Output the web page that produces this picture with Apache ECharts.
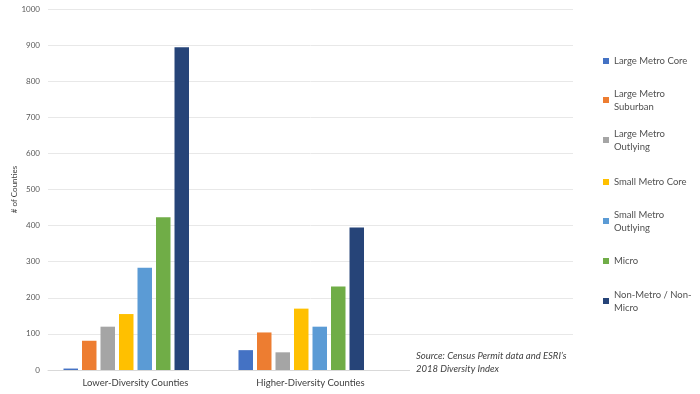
<!DOCTYPE html>
<html>
<head>
<meta charset="utf-8">
<script src="https://cdn.jsdelivr.net/npm/echarts@6/dist/echarts.min.js"></script>
<style>html,body{margin:0;padding:0;background:#fff}#c{width:700px;height:394px}</style>
</head>
<body>
<div id="c"></div>
<script>
var categories = ['Lower-Diversity Counties', 'Higher-Diversity Counties', ''];
var seriesNames = ['Large Metro Core', 'Large Metro Suburban', 'Large Metro Outlying', 'Small Metro Core', 'Small Metro Outlying', 'Micro', 'Non-Metro / Non-Micro'];
var legendLabels = ['Large Metro Core', 'Large Metro\nSuburban', 'Large Metro\nOutlying', 'Small Metro Core', 'Small Metro\nOutlying', 'Micro', 'Non-Metro / Non-\nMicro'];
var largeMetroCore = [4, 55, null];
var largeMetroSuburban = [81, 104, null];
var largeMetroOutlying = [120, 49, null];
var smallMetroCore = [155, 170, null];
var smallMetroOutlying = [283, 120, null];
var micro = [423, 231, null];
var nonMetro = [894, 395, null];
var emptySeries = [0, 0, 0];
var yTicks = [0, 1000, 100];
var sourceText = "Source: Census Permit data and ESRI\u2019s\n2018 Diversity Index";

var colors = ['#4472C4', '#ED7D31', '#A5A5A5', '#FFC000', '#5B9BD5', '#70AD47', '#264478'];
var values = [largeMetroCore, largeMetroSuburban, largeMetroOutlying, smallMetroCore, smallMetroOutlying, micro, nonMetro];
var legendCenters = [61, 100, 140, 182, 221, 261, 301];

var series = values.map(function (d, i) {
  return { name: seriesNames[i], type: 'bar', data: d, barWidth: 14.5, barGap: '27.6%', itemStyle: { color: colors[i] } };
});
series.push({ name: '_blank', type: 'bar', data: emptySeries, barWidth: 14.5, barGap: '27.6%', itemStyle: { color: 'rgba(0,0,0,0)' }, silent: true });

var legends = seriesNames.map(function (n, i) {
  var two = legendLabels[i].indexOf('\n') >= 0;
  return {
    left: 603,
    top: two ? legendCenters[i] - 19.5 : legendCenters[i] - 6.5,
    itemWidth: 6, itemHeight: 6, itemGap: 0,
    icon: 'rect',
    padding: 0,
    data: [{ name: n, textStyle: two ? { padding: [13, 0, 0, 0] } : {} }],
    formatter: function () { return legendLabels[i]; },
    textStyle: { fontFamily: 'Lato', fontSize: 9.5, color: '#505050', lineHeight: 13 },
    selectedMode: false
  };
});

var chart = echarts.init(document.getElementById('c'), null, { renderer: 'canvas' });
chart.setOption({
  animation: false,
  color: colors,
  grid: { left: 48, right: 127, top: 9, bottom: 24, containLabel: false, outerBoundsMode: 'none' },
  legend: legends,
  xAxis: {
    type: 'category', data: categories,
    axisLine: { lineStyle: { color: '#d9d9d9' } },
    axisTick: { show: false },
    axisLabel: { fontFamily: 'Lato', fontSize: 9.5, color: '#404040', margin: 8, interval: 0 }
  },
  yAxis: {
    type: 'value', min: yTicks[0], max: yTicks[1], interval: yTicks[2],
    name: '# of Counties', nameLocation: 'middle', nameGap: 30, nameMoveOverlap: false,
    nameTextStyle: { fontFamily: 'Lato', fontSize: 8, color: '#404040' },
    axisLine: { show: false }, axisTick: { show: false },
    splitLine: { lineStyle: { color: '#e8e8e8' } },
    axisLabel: { fontFamily: 'Lato', fontSize: 8, color: '#595959', margin: 8, formatter: function (v) { return String(v); } }
  },
  graphic: [
    { type: 'rect', left: 410, top: 346, shape: { width: 175, height: 40 }, style: { fill: '#fff' }, z: 10 },
    { type: 'text', left: 416, top: 349, z: 11, style: { text: sourceText, font: 'italic 9.5px Lato', fill: '#404040', lineHeight: 13 } }
  ],
  series: series
});
</script>
</body>
</html>
